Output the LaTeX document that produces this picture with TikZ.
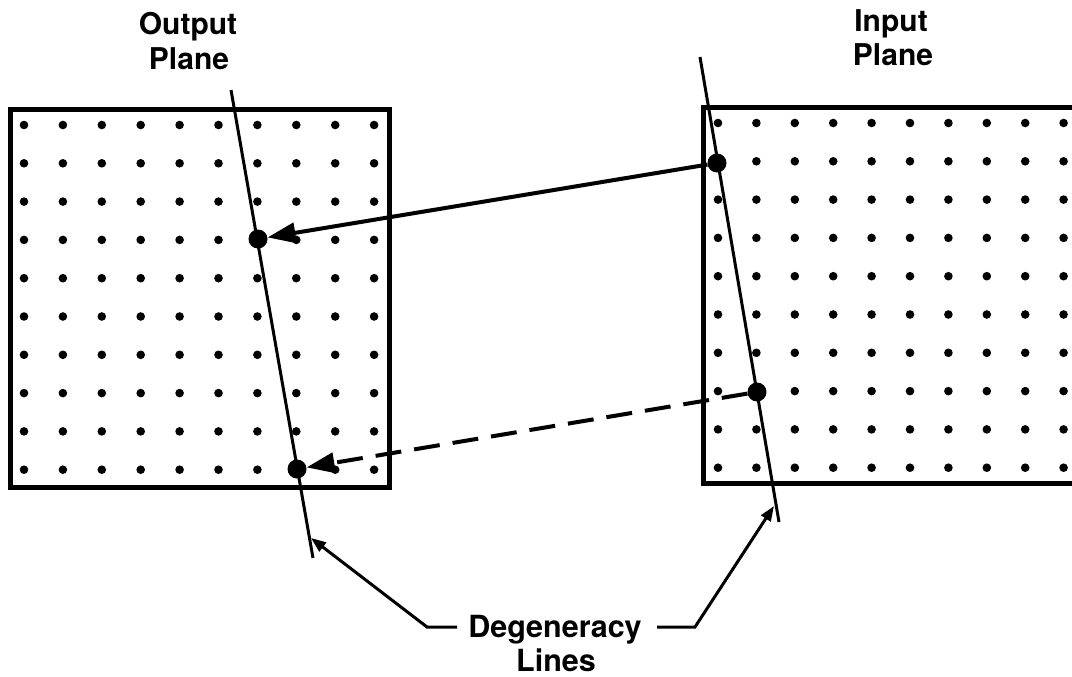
\documentclass[tikz,border=0pt]{standalone}
\usepackage{fontspec}
\setmainfont{TeX Gyre Heros}
\usetikzlibrary{arrows.meta}
\begin{document}
\begin{tikzpicture}[x=1pt,y=-1pt,
  frame/.style={line width=5pt},
  griddot/.style={radius=4.3pt},
  bigdot/.style={circle,fill,inner sep=0pt,minimum size=19pt},
  degline/.style={line width=3pt},
  ray/.style={line width=4pt,-{Triangle[length=28pt,width=20pt]}},
  leader/.style={line width=3pt,-{Triangle[length=15pt,width=11pt]}},
  toplbl/.style={font=\fontsize{30}{34}\selectfont\bfseries,inner sep=0pt,anchor=base},
  deglbl/.style={font=\fontsize{30.5}{35}\selectfont\bfseries,inner sep=0pt,anchor=base}
]
\useasboundingbox (0,0) rectangle (1072,677);
\clip (0,0) rectangle (1072,677);
\fill[white] (0,0) rectangle (1072,677);

% frames
\draw[frame] (10,110) rectangle (389,487);
\draw[frame] (1085,108) -- (703,108) -- (703,483) -- (1085,483);

% grid dots
\foreach \i in {0,...,9}{
  \foreach \j in {0,...,9}{
    \fill[griddot] ({24+38.9*\i},{125+38.3*\j}) circle;
    \fill[griddot] ({718+38.4*\i},{123+38.3*\j}) circle;
  }
}

% degeneracy lines
\coordinate (Ltop) at (231,90);
\coordinate (Lbot) at (313,558);
\coordinate (Rtop) at (700,57);
\coordinate (Rbot) at (779,522);
\draw[degline] (Ltop) -- (Lbot);
\draw[degline] (Rtop) -- (Rbot);

% mapped points
\node[bigdot] (outA) at (258,239) {};
\node[bigdot] (outB) at (297,469) {};
\node[bigdot] (inA) at (717,163) {};
\node[bigdot] (inB) at (757,392) {};

\draw[ray] (inA) -- (outA);
\draw[ray, dash pattern=on 26pt off 13pt] (inB) -- (outB);

% labels
\node[toplbl] (out1) at (188,35) {Output};
\node[toplbl] (out2) at (189,70) {Plane};
\node[toplbl] (in1) at (891,32) {Input};
\node[toplbl] (in2) at (893,66) {Plane};
\node[deglbl] (deg1) at (555,637) {Degeneracy};
\node[deglbl] (deg2) at (556,671) {Lines};

% leaders
\coordinate (ls) at (457,627);
\coordinate (lk) at (427,627);
\coordinate (lt) at (311,538);
\coordinate (rs) at (657,627);
\coordinate (rk) at (695,627);
\coordinate (rt) at (774,506);
\draw[leader] (ls) -- (lk) -- (lt);
\draw[leader] (rs) -- (rk) -- (rt);
\end{tikzpicture}
\end{document}
